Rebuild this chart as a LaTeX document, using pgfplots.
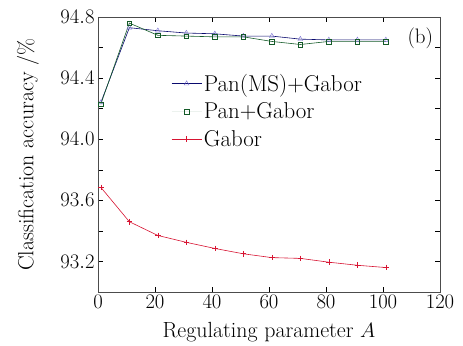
\documentclass[border=0pt]{standalone}
\usepackage{pgfplots}
\pgfplotsset{compat=1.18}
\definecolor{navy}{RGB}{10,10,110}
\definecolor{tri}{RGB}{120,110,210}
\definecolor{dgreen}{RGB}{20,90,40}
\definecolor{gred}{RGB}{215,20,50}
\newcommand{\lf}{\fontsize{23}{26}\selectfont}
\begin{document}
\begin{tikzpicture}
\begin{axis}[
  name=ax,
  width=342bp, height=275bp, scale only axis,
  xmin=0, xmax=120, ymin=93.0, ymax=94.8,
  xtick={0,20,...,120},
  ytick={93.2,93.6,94.0,94.4,94.8},
  minor ytick={93.4,93.8,94.2,94.6},
  yticklabel style={/pgf/number format/.cd,fixed,fixed zerofill,precision=1},
  tick style={black, thin},
  major tick length=5bp, minor tick length=5bp,
  tick align=inside,
  axis line style={black!70, thin},
  ticklabel style={font=\fontsize{21}{24}\selectfont},
  label style={font=\fontsize{22}{25}\selectfont},
  xlabel={Regulating parameter $A$},
  ylabel={Classification accuracy /\%},
  xlabel style={at={(axis description cs:0.5,-0.145)}, anchor=center},
  ylabel style={at={(axis description cs:-0.205,0.5)}, anchor=center},
  legend style={draw=none, fill=none, at={(0.205,0.807)}, anchor=north west, row sep=6bp,
    font=\fontsize{23}{26}\selectfont},
  legend cell align=left,
  legend image code/.code={\draw[mark repeat=2,mark phase=2,#1] plot coordinates {(0bp,0bp) (15bp,0bp) (30bp,0bp)};},
]
\addlegendimage{navy, semithick, mark=triangle, mark size=2.8bp, mark options={tri, solid, thin}}
\addlegendentry{\lf Pan(MS)+Gabor}
\addlegendimage{dgreen!8, semithick, mark=square, mark size=2.3bp, mark options={dgreen, solid, thin}}
\addlegendentry{\lf Pan+Gabor}
\addlegendimage{gred, semithick, mark=+, mark size=2.8bp, mark options={gred, solid}}
\addlegendentry{\lf Gabor}
\addplot[navy, semithick, mark=triangle, mark size=2.8bp, mark options={tri, solid, thin}, forget plot]
  coordinates {(1,94.24) (11,94.73) (21,94.71) (31,94.695) (41,94.69) (51,94.675) (61,94.675) (71,94.655) (81,94.65) (91,94.65) (101,94.65)};
\addplot[dgreen, semithick, mark=square, mark size=2.3bp, mark options={dgreen, solid, thin}, forget plot]
  coordinates {(1,94.23) (11,94.76) (21,94.68) (31,94.675) (41,94.67) (51,94.67) (61,94.64) (71,94.62) (81,94.64) (91,94.64) (101,94.64)};
\addplot[gred, semithick, mark=+, mark size=2.8bp, mark options={gred, solid}, forget plot]
  coordinates {(1,93.685) (11,93.46) (21,93.37) (31,93.325) (41,93.285) (51,93.25) (61,93.225) (71,93.22) (81,93.195) (91,93.175) (101,93.16)};
\node[anchor=north east, font=\fontsize{21}{24}\selectfont] at (rel axis cs:0.99,0.975) {(b)};
\end{axis}
\path ([shift={(-98bp,-53bp)}]ax.south west) rectangle ([shift={(23bp,17bp)}]ax.north east);
\end{tikzpicture}
\end{document}
